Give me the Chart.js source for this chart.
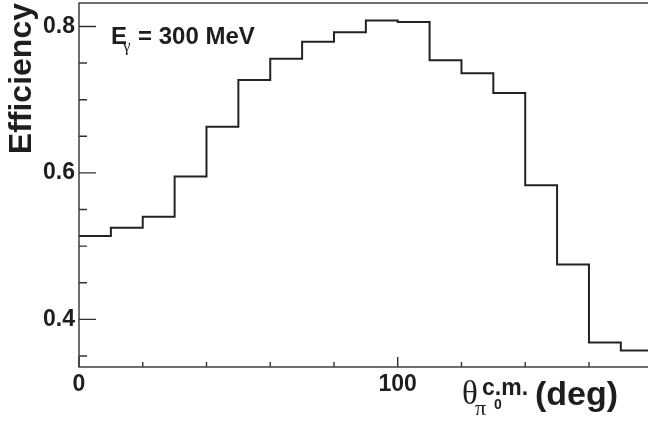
<!DOCTYPE html>
<html>
<head>
<meta charset="utf-8">
<script src="https://cdn.jsdelivr.net/npm/chart.js@4"></script>
<style>
  html, body { margin: 0; padding: 0; background: #fff; overflow: hidden; }
  #effChart { display: block; }
</style>
</head>
<body>
<canvas id="effChart" width="660" height="423"></canvas>
<script>
// pi0 detection efficiency vs. c.m. angle, E_gamma = 300 MeV
// lower edge of each 10 deg bin
const binEdges = [0, 10, 20, 30, 40, 50, 60, 70, 80, 90, 100, 110, 120, 130, 140, 150, 160, 170];
const binWidth = 10;
const efficiency = [0.514, 0.525, 0.540, 0.595, 0.663, 0.727, 0.756, 0.779, 0.792,
                    0.808, 0.806, 0.754, 0.736, 0.709, 0.583, 0.475, 0.3685, 0.3575];

const xMajorTicks = [0, 100];
const xMinorTicks = [20, 40, 60, 80, 120, 140, 160, 180];
const yMajorTicks = [0.4, 0.6, 0.8];
const yMinorTicks = [0.35, 0.45, 0.5, 0.55, 0.65, 0.7, 0.75];

const xRange = [0, 180];
const yRange = [0.335, 0.832];

const INK = '#1e1e1e';
const SANS = '"Liberation Sans", Arial, Helvetica, sans-serif';
const SERIF = '"Liberation Serif", "Times New Roman", serif';

// histogram as a stepped line: one point per bin low edge + closing edge
const histPoints = binEdges.map((x, i) => ({ x: x, y: efficiency[i] }));
histPoints.push({ x: binEdges[binEdges.length - 1] + binWidth, y: efficiency[efficiency.length - 1] });

// drop the label padding chart.js reserves, so the frame sits where ROOT puts it
function noScalePadding(scale) {
    scale.paddingTop = 0;
    scale.paddingBottom = 0;
    scale.paddingLeft = 0;
    scale.paddingRight = 0;
}

/**
 * ROOT-like frame: inward ticks, frame box and the text labels
 */
const rootFrame = {
    id: 'rootFrame',
    afterDraw(chart) {
        const ctx = chart.ctx;
        const area = chart.chartArea;
        const xs = chart.scales.x;
        const ys = chart.scales.y;

        ctx.save();
        ctx.strokeStyle = '#333';
        ctx.lineWidth = 1.4;

        // frame
        ctx.strokeRect(area.left, area.top, area.right - area.left, area.bottom - area.top);

        // y ticks
        ctx.beginPath();
        yMajorTicks.forEach(v => {
            const py = ys.getPixelForValue(v);
            ctx.moveTo(area.left, py);
            ctx.lineTo(area.left + 17, py);
        });
        yMinorTicks.forEach(v => {
            const py = ys.getPixelForValue(v);
            ctx.moveTo(area.left, py);
            ctx.lineTo(area.left + 8, py);
        });
        // x ticks
        xMajorTicks.forEach(v => {
            const px = xs.getPixelForValue(v);
            ctx.moveTo(px, area.bottom);
            ctx.lineTo(px, area.bottom - 10);
        });
        xMinorTicks.forEach(v => {
            const px = xs.getPixelForValue(v);
            ctx.moveTo(px, area.bottom);
            ctx.lineTo(px, area.bottom - 5);
        });
        ctx.stroke();

        ctx.fillStyle = INK;
        ctx.textBaseline = 'alphabetic';

        // y title
        ctx.save();
        ctx.translate(31, 3);
        ctx.rotate(-Math.PI / 2);
        ctx.textAlign = 'right';
        ctx.font = 'bold 32px ' + SANS;
        ctx.fillText('Efficiency', 0, 0);
        ctx.restore();

        // x title: theta^{c.m.}_{pi^0} (deg)
        ctx.textAlign = 'left';
        ctx.font = '33px ' + SERIF;
        ctx.fillText('θ', 462, 404);
        ctx.font = 'bold 23px ' + SANS;
        ctx.fillText('c.m.', 482, 395);
        ctx.font = '22px ' + SERIF;
        ctx.fillText('π', 475, 415);
        ctx.font = 'bold 14px ' + SANS;
        ctx.fillText('0', 494, 409);
        ctx.font = 'bold 34px ' + SANS;
        ctx.fillText('(deg)', 535, 405);

        // energy label
        ctx.font = 'bold 24px ' + SANS;
        ctx.fillText('E', 111, 44);
        ctx.font = '17px ' + SERIF;
        ctx.fillText('γ', 123, 51);
        ctx.font = 'bold 24px ' + SANS;
        ctx.fillText('= 300 MeV', 138, 44);

        ctx.restore();
    }
};

const ctx = document.getElementById('effChart').getContext('2d');

new Chart(ctx, {
    type: 'line',
    data: {
        datasets: [{
            label: 'Efficiency',
            data: histPoints,
            stepped: 'before',
            borderColor: '#222',
            borderWidth: 2,
            pointRadius: 0,
            fill: false
        }]
    },
    options: {
        responsive: false,
        animation: false,
        devicePixelRatio: 1,
        layout: { padding: { top: 3, right: 7.3, left: 0, bottom: 0 } },
        plugins: {
            legend: { display: false },
            tooltip: { enabled: false }
        },
        scales: {
            x: {
                type: 'linear',
                min: xRange[0],
                max: xRange[1],
                grid: { display: false, drawTicks: false },
                border: { display: false },
                afterBuildTicks: (scale) => {
                    scale.ticks = xMajorTicks.map(v => ({ value: v }));
                },
                afterFit: (scale) => {
                    scale.height = 56;
                    noScalePadding(scale);
                },
                ticks: {
                    padding: 4,
                    maxRotation: 0,
                    color: INK,
                    font: { family: SANS, weight: 'bold', size: 23 }
                }
            },
            y: {
                type: 'linear',
                min: yRange[0],
                max: yRange[1],
                grid: { display: false, drawTicks: false },
                border: { display: false },
                afterBuildTicks: (scale) => {
                    scale.ticks = yMajorTicks.map(v => ({ value: v }));
                },
                afterFit: (scale) => {
                    scale.width = 79;
                    noScalePadding(scale);
                },
                ticks: {
                    padding: 4,
                    color: INK,
                    font: { family: SANS, weight: 'bold', size: 23 },
                    callback: (v) => v.toFixed(1)
                }
            }
        }
    },
    plugins: [rootFrame]
});
</script>
</body>
</html>
